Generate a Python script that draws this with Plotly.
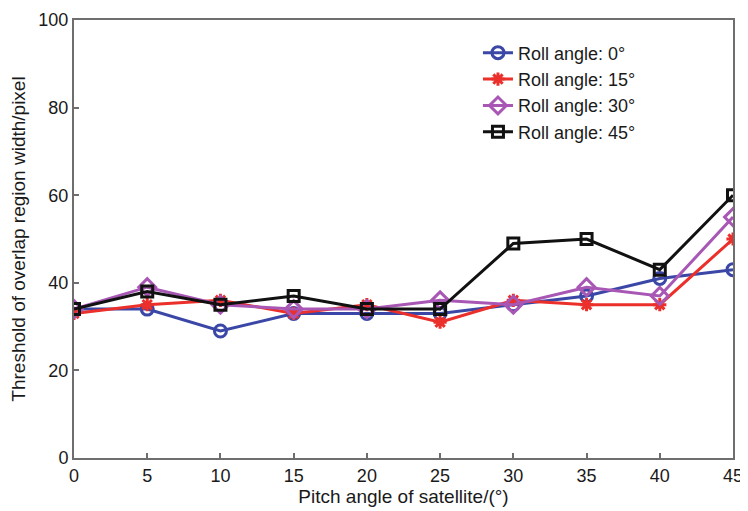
import plotly.graph_objects as go

pitch = [0, 5, 10, 15, 20, 25, 30, 35, 40, 45]
roll0 = [34, 34, 29, 33, 33, 33, 35, 37, 41, 43]
roll15 = [33, 35, 36, 33, 35, 31, 36, 35, 35, 50]
roll30 = [34, 39, 35, 34, 34, 36, 35, 39, 37, 55]
roll45 = [34, 38, 35, 37, 34, 34, 49, 50, 43, 60]

series = [
    ("Roll angle: 0°", roll0, "#3B47A6", "circle-open", 12),
    ("Roll angle: 15°", roll15, "#EB2F2A", "asterisk-open", 11),
    ("Roll angle: 30°", roll30, "#A857B5", "diamond-open", 13),
    ("Roll angle: 45°", roll45, "#111111", "square-open", 11),
]

fig = go.Figure()
for name, ys, color, sym, size in series:
    fig.add_trace(go.Scatter(
        x=pitch, y=ys, name=name, mode="lines+markers",
        line=dict(color=color, width=3),
        marker=dict(symbol=sym, size=size, color=color,
                    line=dict(color=color, width=3)),
    ))

axis_common = dict(
    showline=True, linecolor="#6e6e6e", linewidth=2, mirror=True,
    ticks="inside", ticklen=5, tickcolor="#6e6e6e", tickwidth=1.5,
    showgrid=False, zeroline=False, automargin=False,
    tickfont=dict(family="Liberation Sans, Arial", size=18, color="#1a1a1a"),
)

# page body has an 8px default margin, so the figure is sized to fit the window
fig.update_layout(
    width=740, height=503,
    margin=dict(l=66, r=15, t=12, b=53),
    paper_bgcolor="white", plot_bgcolor="white",
    font=dict(family="Liberation Sans, Arial", size=18, color="#1a1a1a"),
    xaxis=dict(range=[0, 45], tickvals=pitch,
               title=dict(text="Pitch angle of satellite/(°)", standoff=4,
                          font=dict(size=19)),
               **axis_common),
    yaxis=dict(range=[0, 100], tickvals=[0, 20, 40, 60, 80, 100],
               title=dict(text="Threshold of overlap region width/pixel", standoff=8,
                          font=dict(size=19)),
               **axis_common),
    legend=dict(x=0.613, y=0.967, xanchor="left", yanchor="top",
                bgcolor="rgba(255,255,255,0)", borderwidth=0,
                font=dict(size=18), tracegroupgap=0),
    showlegend=True,
)

fig.write_html("out.html")
